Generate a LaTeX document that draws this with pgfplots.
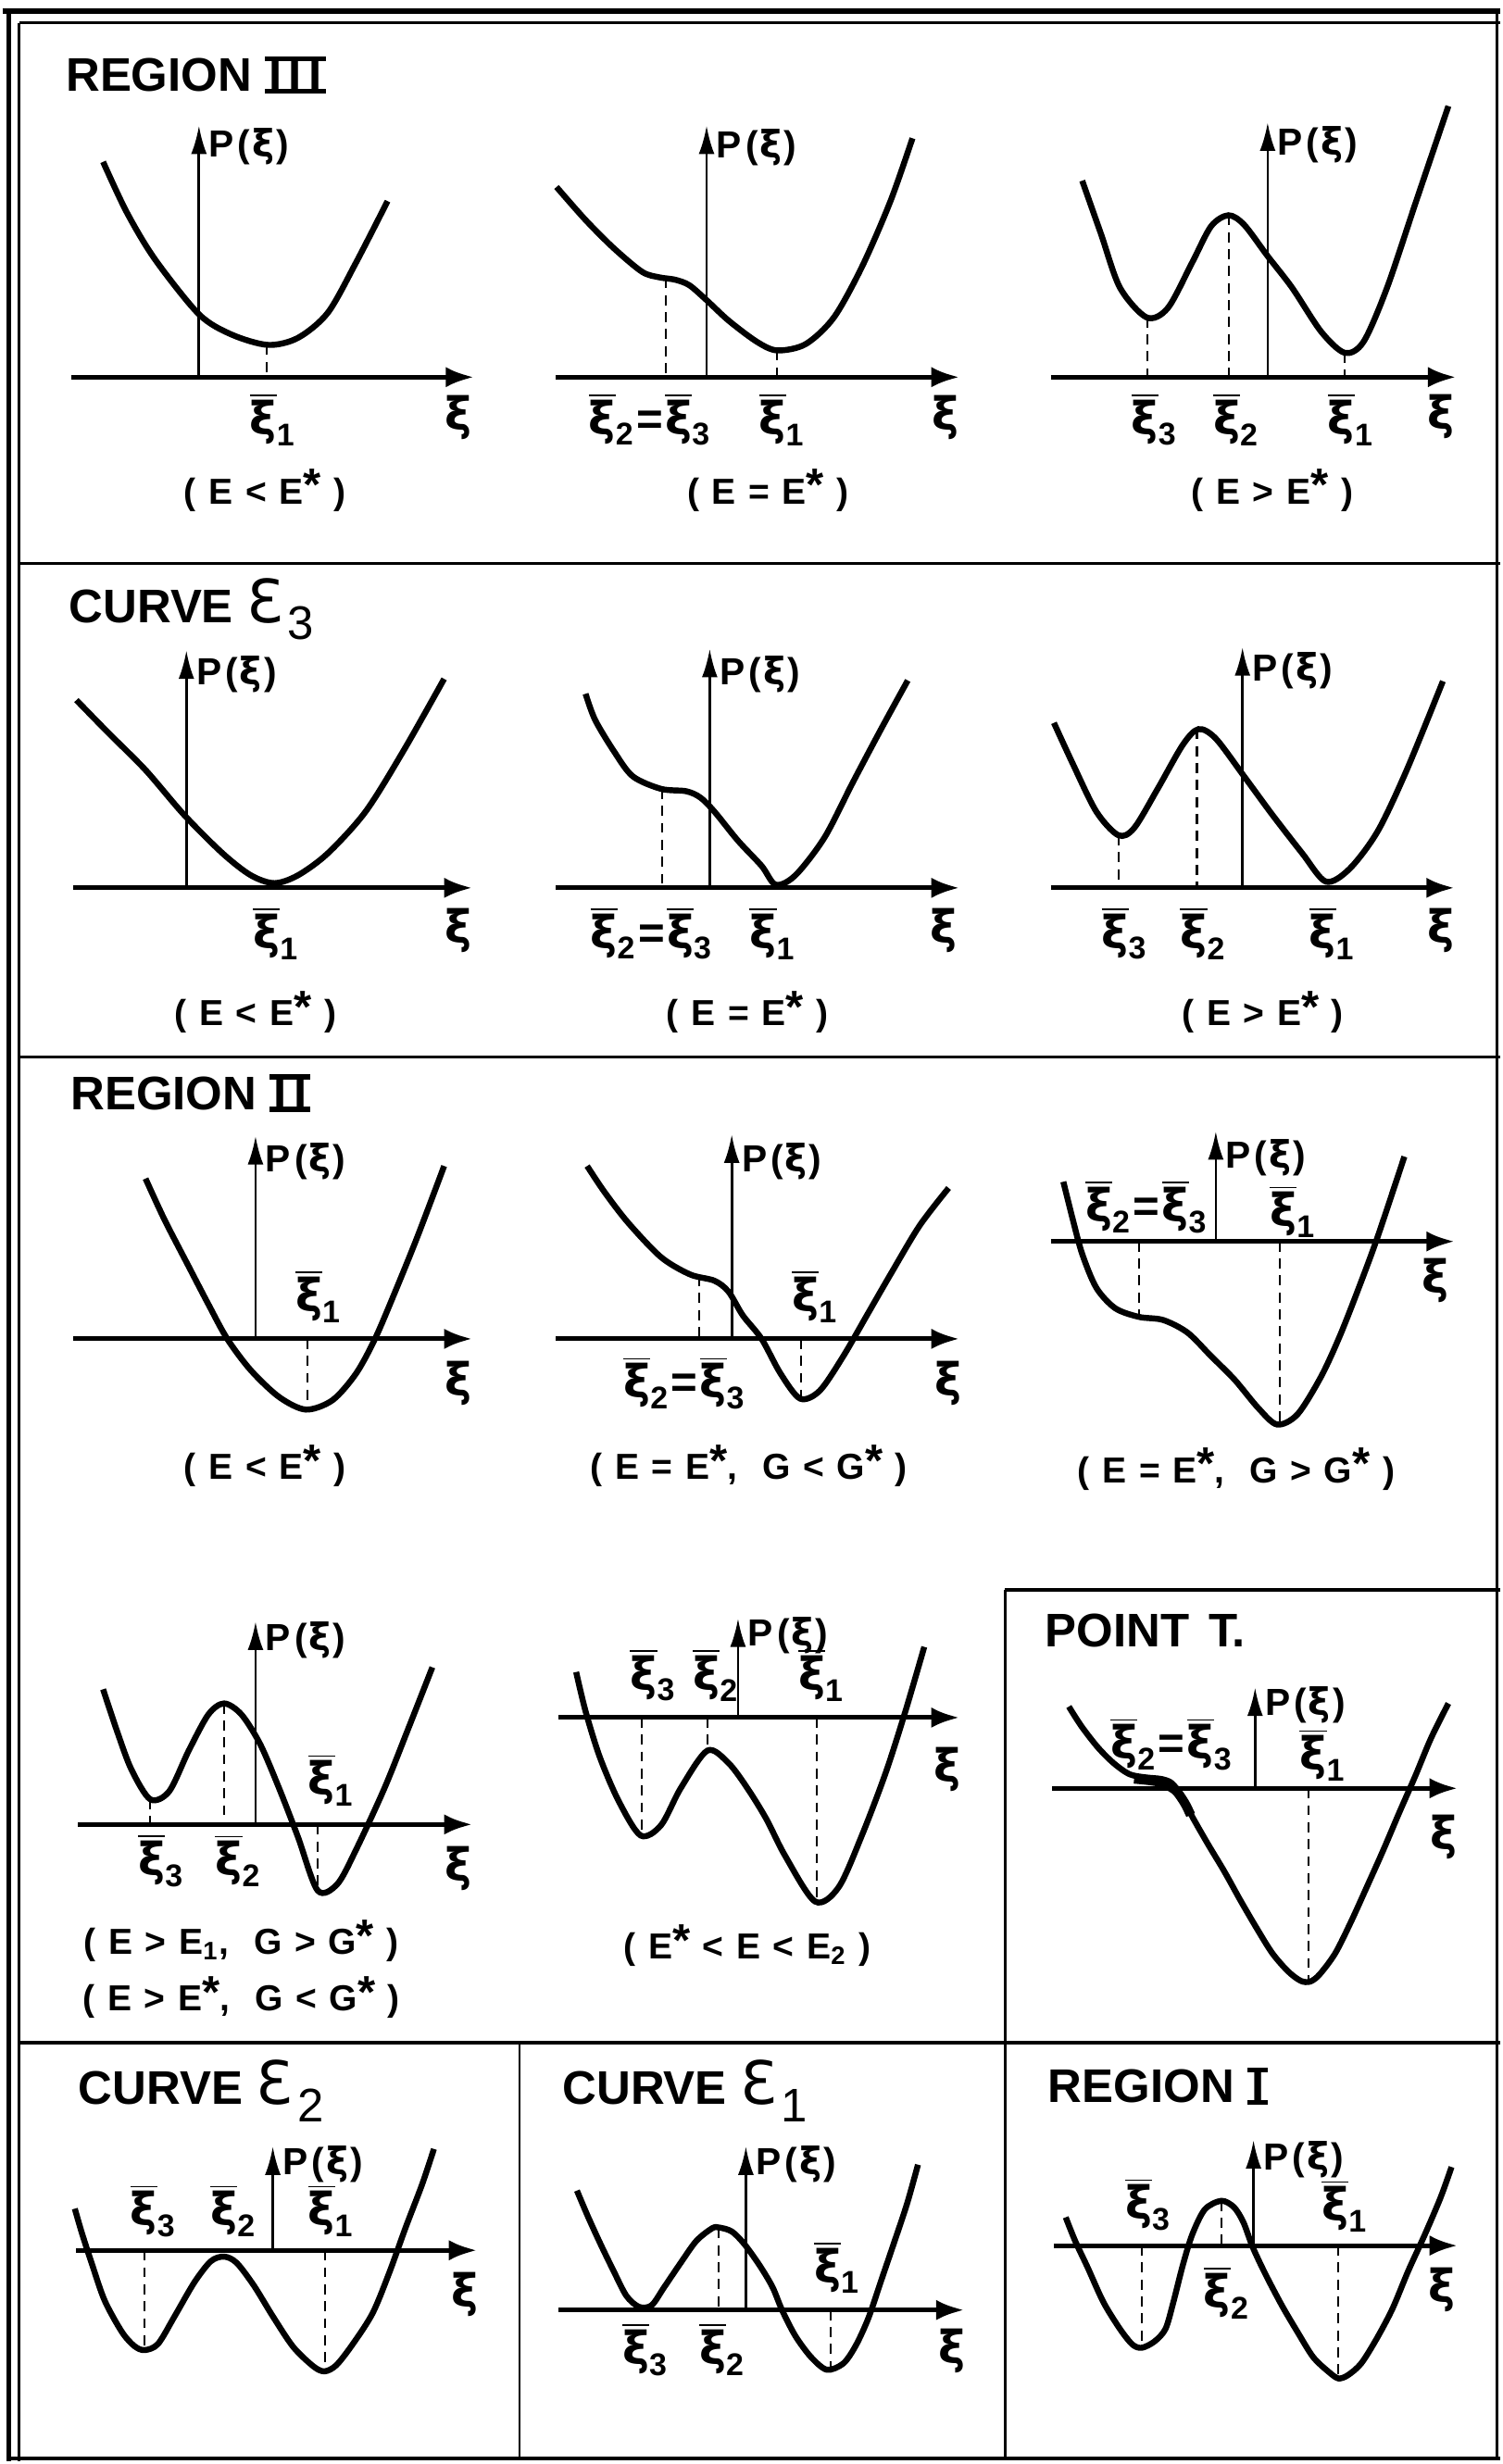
\documentclass[border=0pt]{standalone}
\usepackage{fontspec}
\setmainfont{Liberation Sans}
\newfontfamily\dejavu{DejaVu Sans}
\usepackage{pgfplots}
\pgfplotsset{compat=1.18}
\usetikzlibrary{arrows.meta}

% roman numeral with bars on top and bottom
\newcommand{\rom}[1]{\setbox0=\hbox{\kern1.2pt #1\kern1.2pt}\rlap{\rule[-0.8pt]{\wd0}{1.6pt}}\rlap{\rule[\dimexpr\ht0-0.8pt\relax]{\wd0}{1.6pt}}\box0}
% barred xi with a subscript
\newcommand{\xb}[1]{$\overline{\mbox{\dejavu\bfseries ξ}}_{\mbox{\bfseries\fontsize{10}{11}\selectfont #1}}$}
\newcommand{\xbeq}{\xb{2}\kern0.6pt{\bfseries=}\kern0.6pt\xb{3}}
\newcommand{\g}{\hspace{4pt}}
\newcommand{\st}{\raisebox{1pt}{\fontsize{14.5}{14.5}\selectfont *}}
\newcommand{\Pxi}{P\kern1.2pt(\kern0.6pt{\dejavu\bfseries ξ}\kern0.6pt)}
\newcommand{\Ecal}[1]{{\dejavu\mdseries\fontsize{19}{19}\selectfont Ɛ}\kern1.5pt\raisebox{-5.5pt}{\mdseries #1}}

\pgfplotsset{
  curve/.style={black, line width=1.9pt, smooth, no markers},
  drop/.style={black, line width=0.6pt, dash pattern=on 3.2pt off 2.2pt, no markers},
}
\tikzset{
  haxis/.style={line width=1.5pt, -{Latex[length=9pt,width=6.5pt]}},
  vaxis/.style={line width=0.8pt, -{Latex[length=9pt,width=5pt]}},
  ttl/.style={anchor=base west, inner sep=0pt, font=\bfseries\fontsize{15}{17}\selectfont},
  cond/.style={inner sep=0pt, font=\bfseries\fontsize{11.5}{13}\selectfont},
  plab/.style={anchor=west, inner sep=0pt, font=\bfseries\fontsize{12}{14}\selectfont},
  xlab/.style={inner sep=0pt, font=\dejavu\bfseries\fontsize{14.5}{16}\selectfont},
  xbl/.style={inner sep=0pt, font=\fontsize{14.5}{16}\selectfont},
}

\begin{document}
\begin{tikzpicture}
\begin{axis}[x=0.5pt, y=0.5pt, xmin=0, xmax=953, ymin=0, ymax=1568,
  y dir=reverse, hide axis, clip=false]

\path (axis cs:0,0) rectangle (axis cs:953,1568);

% ---------- frame ----------
\draw[line width=1.6pt] (axis cs:0,7) -- (axis cs:953,7);
\draw[line width=0.8pt] (axis cs:10.5,14.5) -- (axis cs:953,14.5);
\draw[line width=1.4pt] (axis cs:4,6) -- (axis cs:4,1566);
\draw[line width=0.8pt] (axis cs:10.5,14.5) -- (axis cs:10.5,1566);
\draw[line width=0.8pt] (axis cs:951,7) -- (axis cs:951,1565);
\draw[line width=1.3pt] (axis cs:4,1564.5) -- (axis cs:953,1564.5);
\draw[line width=0.9pt] (axis cs:10.5,358.5) -- (axis cs:953,358.5);
\draw[line width=0.9pt] (axis cs:10.5,672.5) -- (axis cs:953,672.5);
\draw[line width=1.2pt] (axis cs:10.5,1300) -- (axis cs:953,1300);
\draw[line width=1.2pt] (axis cs:638,1012) -- (axis cs:953,1012);
\draw[line width=0.8pt] (axis cs:638,1012) -- (axis cs:638,1565);
\draw[line width=0.8pt] (axis cs:329,1300) -- (axis cs:329,1565);

% ---------- titles ----------
\node[ttl] at (axis cs:40,58) {REGION \rom{I\kern2.2pt I\kern2.2pt I}};
\node[ttl] at (axis cs:42,396) {CURVE \Ecal{3}};
\node[ttl] at (axis cs:43,706) {REGION \rom{I\kern2.2pt I}};
\node[ttl] at (axis cs:663,1048) {POINT\kern2pt\ T.};
\node[ttl] at (axis cs:48,1339) {CURVE \Ecal{2}};
\node[ttl] at (axis cs:356,1339) {CURVE \Ecal{1}};
\node[ttl] at (axis cs:665,1338) {REGION \rom{I}};

% ================= REGION III =================
% (E<E*)
\draw[haxis] (axis cs:44,240) -- (axis cs:300,240);
\draw[vaxis] (axis cs:125,240) -- (axis cs:125,80);
\addplot[curve] coordinates {(64,103)(79,135)(97,165)(125,200)(146,213)(169,219.5)(188,215)(207,199)(225,167)(245,128)};
\addplot[drop] coordinates {(168,219.5)(168,240)};
\node[plab] at (axis cs:131,93) {\Pxi};
\node[xbl] at (axis cs:172,267) {\xb{1}};
\node[xlab] at (axis cs:290,266) {ξ};
\node[cond] at (axis cs:167,312) {(\g E\g<\g E\st\g)};

% (E=E*)
\draw[haxis] (axis cs:352,240) -- (axis cs:609,240);
\draw[vaxis] (axis cs:448,240) -- (axis cs:448,80);
\addplot[curve] coordinates {(352.5,119)(371,140)(389,158)(407,173)(418,176.5)(428,178)(437,181.5)(448,191)(462,204)(480,217.5)(493,223)(511,219)(529,202)(547,169.5)(565,128)(579,88)};
\addplot[drop] coordinates {(422,177)(422,240)};
\addplot[drop] coordinates {(493,223)(493,240)};
\node[plab] at (axis cs:454,94) {\Pxi};
\node[xbl] at (axis cs:412,267) {\xbeq};
\node[xbl] at (axis cs:496,267) {\xb{1}};
\node[xlab] at (axis cs:600,266) {ξ};
\node[cond] at (axis cs:487,312) {(\g E\g=\g E\st\g)};

% (E>E*)
\draw[haxis] (axis cs:667,240) -- (axis cs:925,240);
\draw[vaxis] (axis cs:805,240) -- (axis cs:805,78);
\addplot[curve] coordinates {(687,115)(699,149)(711,183)(728,202)(741.5,196)(757,167)(769,144)(780,137)(790,143)(805,163)(820.5,183)(839,211)(854,224.5)(866,217.5)(881,183)(899.5,128)(920,67.5)};
\addplot[drop] coordinates {(728.5,202)(728.5,240)};
\addplot[drop] coordinates {(780.5,137)(780.5,240)};
\addplot[drop] coordinates {(854,224.5)(854,240)};
\node[plab] at (axis cs:811,92) {\Pxi};
\node[xbl] at (axis cs:733,267) {\xb{3}};
\node[xbl] at (axis cs:785,267) {\xb{2}};
\node[xbl] at (axis cs:858,267) {\xb{1}};
\node[xlab] at (axis cs:915,265) {ξ};
\node[cond] at (axis cs:808,312) {(\g E\g>\g E\st\g)};

% ================= CURVE E3 =================
\draw[haxis] (axis cs:45,565) -- (axis cs:299,565);
\draw[vaxis] (axis cs:117,565) -- (axis cs:117,414);
\addplot[curve] coordinates {(47,445.5)(67,466)(91,490)(115.5,518.5)(140,543)(158,557)(173,562)(188,557)(207,543)(231,516.5)(255,478)(281,432)};
\node[plab] at (axis cs:123,429) {\Pxi};
\node[xbl] at (axis cs:174,594) {\xb{1}};
\node[xlab] at (axis cs:290,592) {ξ};
\node[cond] at (axis cs:161,644) {(\g E\g<\g E\st\g)};

\draw[haxis] (axis cs:352,565) -- (axis cs:609,565);
\draw[vaxis] (axis cs:450,565) -- (axis cs:450,413);
\addplot[curve] coordinates {(371,441.5)(377,458)(389,478)(401,494)(419,502)(435,503.5)(444,507.5)(453,516.5)(468,535)(483,551)(492,563)(504.5,557)(523,533)(541,498)(559,464)(576,433)};
\addplot[drop] coordinates {(419.5,502)(419.5,565)};
\node[plab] at (axis cs:456,429) {\Pxi};
\node[xbl] at (axis cs:413,594) {\xbeq};
\node[xbl] at (axis cs:490,594) {\xb{1}};
\node[xlab] at (axis cs:599,592) {ξ};
\node[cond] at (axis cs:474,644) {(\g E\g=\g E\st\g)};

\draw[haxis] (axis cs:667,565) -- (axis cs:924,565);
\draw[vaxis] (axis cs:789,565) -- (axis cs:789,412);
\addplot[curve] coordinates {(669,460)(681,486)(696,516.5)(710,531.5)(720,527)(735,502)(751,474)(761,464)(772,470)(790,494)(808,518.5)(827,543)(842,561)(857,553)(875,529)(893.5,490)(916.5,433.5)};
\addplot[drop] coordinates {(710,531.5)(710,565)};
\addplot[drop] coordinates {(760,464)(760,565)};
\node[plab] at (axis cs:795,427) {\Pxi};
\node[xbl] at (axis cs:714,594) {\xb{3}};
\node[xbl] at (axis cs:764,594) {\xb{2}};
\node[xbl] at (axis cs:846,594) {\xb{1}};
\node[xlab] at (axis cs:915,592) {ξ};
\node[cond] at (axis cs:802,644) {(\g E\g>\g E\st\g)};

% ================= REGION II =================
\draw[haxis] (axis cs:45,852) -- (axis cs:299,852);
\draw[vaxis] (axis cs:161,852) -- (axis cs:161,723);
\addplot[curve] coordinates {(91,750)(103,776)(118.5,806)(131,830)(143,852)(158,872)(176,889)(193,897)(210,891)(225,874)(237,852)(249,824)(264,787)(281,742)};
\addplot[drop] coordinates {(194,852)(194,897)};
\node[plab] at (axis cs:167,739) {\Pxi};
\node[xbl] at (axis cs:201,825) {\xb{1}};
\node[xlab] at (axis cs:290,880) {ξ};
\node[cond] at (axis cs:167,933) {(\g E\g<\g E\st\g)};

\draw[haxis] (axis cs:352,852) -- (axis cs:609,852);
\draw[vaxis] (axis cs:464,852) -- (axis cs:464,722);
\addplot[curve] coordinates {(372,742)(383,758.5)(398,778)(419,800)(437.5,811)(453,815)(462,822)(471,837)(483,852)(495,874)(507.5,890)(520,885)(535,863)(550,837)(565,811)(583.5,780)(602,756)};
\addplot[drop] coordinates {(443.5,812)(443.5,852)};
\addplot[drop] coordinates {(508,852)(508,890)};
\node[plab] at (axis cs:470,739) {\Pxi};
\node[xbl] at (axis cs:517,825) {\xb{1}};
\node[xbl] at (axis cs:434,880) {\xbeq};
\node[xlab] at (axis cs:602,880) {ξ};
\node[cond] at (axis cs:475,933) {(\g E\g=\g E\st,\g\g G\g<\g G\st\g)};

\draw[haxis] (axis cs:667,790) -- (axis cs:924,790);
\draw[vaxis] (axis cs:772,790) -- (axis cs:772,720);
\addplot[curve] coordinates {(675,752)(681,776)(687,798)(696,819.5)(708,832.5)(723,838)(738.5,840)(754,848)(769,863)(784,878)(799,896)(811,906.5)(824,900)(839,876)(851,850)(863,819.5)(875,787)(892,736)};
\addplot[drop] coordinates {(723,790)(723,838)};
\addplot[drop] coordinates {(813,790)(813,906)};
\node[plab] at (axis cs:778,737) {\Pxi};
\node[xbl] at (axis cs:728,768) {\xbeq};
\node[xbl] at (axis cs:821,771) {\xb{1}};
\node[xlab] at (axis cs:912,815) {ξ};
\node[cond] at (axis cs:785,935) {(\g E\g=\g E\st,\g\g G\g>\g G\st\g)};

% (E>E1, G>G*) / (E>E*, G<G*)
\draw[haxis] (axis cs:48,1161) -- (axis cs:299,1161);
\draw[vaxis] (axis cs:161,1161) -- (axis cs:161,1032);
\addplot[curve] coordinates {(64,1075)(73,1102)(82,1126)(94,1145)(106,1140)(118.5,1114)(131,1091)(141,1084)(152,1091)(164,1110)(176,1138)(188,1169)(200.5,1203)(213,1199)(225,1177)(243,1138)(258,1100.5)(273.5,1061)};
\addplot[drop] coordinates {(94,1145)(94,1161)};
\addplot[drop] coordinates {(141,1084)(141,1161)};
\addplot[drop] coordinates {(200.5,1161)(200.5,1203)};
\node[plab] at (axis cs:167,1044) {\Pxi};
\node[xbl] at (axis cs:101,1184) {\xb{3}};
\node[xbl] at (axis cs:150,1184) {\xb{2}};
\node[xbl] at (axis cs:209,1133) {\xb{1}};
\node[xlab] at (axis cs:290,1189) {ξ};
\node[cond] at (axis cs:152,1235) {(\g E\g>\g E\textsubscript{1},\g\g G\g>\g G\st\g)};
\node[cond] at (axis cs:152,1271) {(\g E\g>\g E\st,\g\g G\g<\g G\st\g)};

% (E*<E<E2)
\draw[haxis] (axis cs:354,1093) -- (axis cs:609,1093);
\draw[vaxis] (axis cs:468,1093) -- (axis cs:468,1030);
\addplot[curve] coordinates {(365,1064)(371,1089)(380,1118)(392,1146)(406,1168)(419,1161.5)(431.5,1138)(448.5,1114)(462,1122)(474,1138)(486,1157.5)(498,1181)(517,1210)(532,1201)(547,1167.5)(562,1128)(574.5,1089)(586.5,1048)};
\addplot[drop] coordinates {(407,1093)(407,1168)};
\addplot[drop] coordinates {(448.5,1093)(448.5,1114)};
\addplot[drop] coordinates {(518,1093)(518,1210)};
\node[plab] at (axis cs:474,1041) {\Pxi};
\node[xbl] at (axis cs:414,1066) {\xb{3}};
\node[xbl] at (axis cs:454,1066) {\xb{2}};
\node[xbl] at (axis cs:521,1066) {\xb{1}};
\node[xlab] at (axis cs:601,1126) {ξ};
\node[cond] at (axis cs:474,1238) {(\g E\st\g<\g E\g<\g E\textsubscript{2}\g)};

% ================= POINT T =================
\draw[haxis] (axis cs:668,1138) -- (axis cs:926,1138);
\draw[vaxis] (axis cs:797,1138) -- (axis cs:797,1074);
\addplot[curve] coordinates {(678.5,1086)(686.5,1098.5)(697,1112)(707,1122)(717,1129)(727,1131)(737,1132)(743,1134)(747,1138)(751,1144)(757,1156)(767,1173.5)(777.5,1191)(787.5,1209)(798,1227)(808,1243)(818,1254.5)(826,1260.5)(832,1261)(838,1256.5)(848,1243)(858,1223)(868,1201)(878.5,1177.5)(888.5,1154)(899,1130)(909,1106)(920,1084)};
\addplot[black, line width=3pt, smooth, no markers] coordinates {(720,1132)(736,1134)(746,1139)(752,1147)(756,1155)};
\addplot[drop] coordinates {(831,1138)(831,1261)};
\node[plab] at (axis cs:803,1085) {\Pxi};
\node[xbl] at (axis cs:744,1110) {\xbeq};
\node[xbl] at (axis cs:840,1117) {\xb{1}};
\node[xlab] at (axis cs:917,1169) {ξ};

% ================= CURVE E2 =================
\draw[haxis] (axis cs:47,1432) -- (axis cs:302,1432);
\draw[vaxis] (axis cs:172,1432) -- (axis cs:172,1366);
\addplot[curve] coordinates {(46,1405.5)(50.5,1421)(57,1441)(65,1464)(76,1484)(84,1493)(90.5,1495.5)(99,1491.5)(109.5,1474)(122,1452.5)(132.5,1439)(141,1436)(149,1440)(160,1454.5)(172,1474)(185,1493.5)(198,1506)(205,1509)(212.5,1505)(223,1491.5)(235.5,1472)(246,1446.5)(256.5,1417.5)(267,1390)(274.5,1367.5)};
\addplot[drop] coordinates {(90.5,1432)(90.5,1495)};
\addplot[drop] coordinates {(205,1432)(205,1509)};
\node[plab] at (axis cs:178,1377) {\Pxi};
\node[xbl] at (axis cs:96,1407) {\xb{3}};
\node[xbl] at (axis cs:147,1407) {\xb{2}};
\node[xbl] at (axis cs:209,1407) {\xb{1}};
\node[xlab] at (axis cs:294,1460) {ξ};

% ================= CURVE E1 =================
\draw[haxis] (axis cs:354,1470) -- (axis cs:612,1470);
\draw[vaxis] (axis cs:473,1470) -- (axis cs:473,1366);
\addplot[curve] coordinates {(365.5,1394)(372.5,1410.5)(380.5,1428)(389,1445.5)(397,1461)(405,1468)(413,1467)(421,1455.5)(431.5,1440)(441.5,1426)(451.5,1418)(456,1417.5)(464,1420)(472,1428)(482,1442)(490,1455.5)(496,1470)(504.5,1486.5)(514.5,1500)(524.5,1508)(535,1504)(543,1492.5)(551,1475)(559,1451.5)(567,1428)(575.5,1402.5)(582.5,1377.5)};
\addplot[drop] coordinates {(455.7,1418)(455.7,1470)};
\addplot[drop] coordinates {(527,1470)(527,1508)};
\node[plab] at (axis cs:479,1377) {\Pxi};
\node[xbl] at (axis cs:409,1495) {\xb{3}};
\node[xbl] at (axis cs:458,1495) {\xb{2}};
\node[xbl] at (axis cs:531,1443) {\xb{1}};
\node[xlab] at (axis cs:604,1496) {ξ};

% ================= REGION I =================
\draw[haxis] (axis cs:669,1429) -- (axis cs:926,1429);
\draw[vaxis] (axis cs:796,1429) -- (axis cs:796,1362);
\addplot[curve] coordinates {(676.5,1411)(682.5,1426)(690.5,1443)(700.5,1465)(711,1482)(719,1492)(725,1494)(733,1490)(740,1482)(745,1465)(751,1441.5)(757,1422)(765,1406)(775.5,1400.5)(783.5,1404.5)(789.5,1414)(795.5,1430)(803.5,1447)(814,1467)(824,1484)(834,1500)(844,1509.5)(850,1513.5)(856,1511.5)(864.5,1504)(874.5,1488)(884.5,1469)(894.5,1445)(905,1422)(915,1398.5)(922,1379)};
\addplot[drop] coordinates {(725,1429)(725,1494)};
\addplot[drop] coordinates {(775.5,1400.5)(775.5,1429)};
\addplot[drop] coordinates {(850,1429)(850,1513)};
\node[plab] at (axis cs:802,1374) {\Pxi};
\node[xbl] at (axis cs:729,1403) {\xb{3}};
\node[xbl] at (axis cs:779,1459) {\xb{2}};
\node[xbl] at (axis cs:854,1404) {\xb{1}};
\node[xlab] at (axis cs:916,1457) {ξ};

\end{axis}
\end{tikzpicture}
\end{document}
